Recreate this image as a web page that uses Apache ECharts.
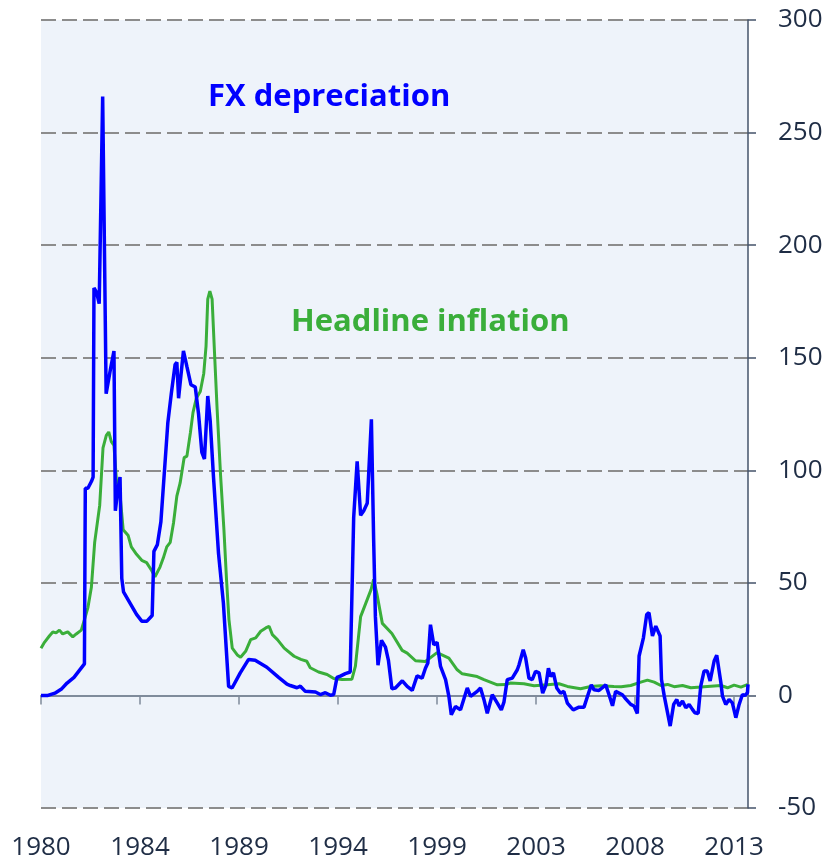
<!DOCTYPE html>
<html>
<head>
<meta charset="utf-8">
<script src="https://cdn.jsdelivr.net/npm/echarts@6/dist/echarts.min.js"></script>
<style>
  html, body { margin: 0; padding: 0; background: #fff; }
  #chart { width: 827px; height: 864px; }
</style>
</head>
<body>
<div id="chart"></div>
<script>
// months counted from Jan 1980
var fxMonth = [0, 4, 8, 12, 15, 19, 22, 24, 25, 25.5, 27, 29, 30, 30.5, 32, 33.5, 35.5, 37.5, 40, 42, 42.8, 44, 45.5, 46.5, 47.5, 52, 55, 58, 61, 64, 65, 67, 69, 73, 75, 77.2, 78.2, 79.2, 82, 84, 86.3, 88.8, 90.7, 92.6, 94.1, 96, 97.4, 99.3, 102.2, 105, 108, 110, 114.7, 119.5, 123.3, 130, 136.8, 141.6, 143.5, 147.4, 149.3, 152, 158, 160.8, 163.7, 166.6, 168.5, 170.4, 172.3, 175.2, 178, 180, 182, 184, 185.8, 187.8, 190.2, 191.5, 192.5, 194, 196, 198.3, 200, 202, 204, 208, 210.8, 213.7, 216.5, 219.4, 221.3, 222.7, 224.2, 226.1, 228, 230, 232.9, 234.8, 236.2, 238.6, 241.5, 245.4, 247.3, 251.1, 253, 255, 256.9, 259.8, 262.7, 265, 266.5, 268.4, 271.3, 274.2, 275.2, 277.6, 279, 280.9, 282.8, 284.7, 286.7, 288.8, 290.7, 292.1, 293.4, 295, 296.9, 299.1, 301, 303, 305, 306.4, 309.7, 312.6, 314.9, 316.8, 318.4, 321.2, 323, 325.1, 327, 329, 330.8, 332.8, 334.7, 336.6, 339.5, 341.4, 343.3, 344.3, 346.8, 348.7, 350, 352, 353.9, 356.4, 357.2, 358.8, 362.2, 364.2, 366, 367.3, 369.3, 371.2, 373.1, 375, 376.4, 378.3, 379.8, 381.7, 383.6, 385.2, 387.5, 389, 391.4, 392.3, 394.2, 396.1, 398, 400, 401.9, 403.8, 405.2, 406.7, 407];
var fxValue = [0, 0, 1, 3, 5.5, 8, 11, 13, 14, 92, 92, 95, 97, 181, 179, 174, 266, 134, 145, 153, 82, 90, 97, 52, 46, 40, 36, 33, 33, 35.5, 64, 67, 77, 121, 134, 147, 148, 132, 153, 146, 138, 137, 125, 108, 105, 133, 122, 97, 63, 41, 4, 3.3, 10, 16, 15.6, 12.5, 8, 5, 4.4, 3.4, 4.1, 1.9, 1.5, 0.4, 1.2, 0.1, 0.4, 8, 8.6, 9.7, 10.4, 79, 104, 80, 82, 85.4, 122.6, 69, 35, 13.4, 24.5, 21.5, 15.6, 3, 3.3, 6.5, 4, 2.2, 8.7, 7.7, 12.1, 14.4, 31.4, 22.5, 23.6, 12.9, 7, -0.4, -8.6, -4.9, -6.4, 3.3, -0.4, 1.8, 3.3, -1.9, -7.9, 0.3, -3.4, -6.4, -3, 7, 7.7, 11.4, 13.6, 20.3, 16.6, 7.7, 7, 10.7, 10, 1, 4.7, 12.1, 8.4, 10, 3.3, 1, 1.8, -3.4, -5.2, -6.4, -5.2, -5.2, 0.3, 4.7, 2.5, 2.2, 3.3, 4.7, 0.3, -4.6, 1.8, 1, 0.3, -1.5, -4, -4.7, -8, 17.5, 25.6, 36, 36.7, 26.4, 30.8, 26.4, 7.1, -0.3, -13.6, -4, -1.8, -4.7, -2.5, -5.5, -4, -6.2, -7.7, -8, 4.1, 10.8, 10.8, 6.4, 15.3, 17.8, 5.6, -0.3, -4, -1.8, -3.3, -9.9, -4, 0.4, 0, 1.2, 4.9];

var cpiMonth = [0, 2, 4.8, 6.8, 8.7, 10.6, 12.5, 15.4, 18.3, 20.3, 23.2, 25, 27, 29, 30.9, 33.8, 35.7, 37.6, 39, 40.5, 42, 43.4, 45.4, 47.3, 50.2, 52, 55, 58, 60.8, 63.7, 65.6, 68.5, 70.4, 72.4, 74.4, 76.3, 78.2, 80.1, 82.4, 84, 86, 87.5, 89.4, 91.7, 93.7, 95, 96, 97.2, 98.5, 99.9, 101.4, 103.4, 105.3, 106.8, 108.2, 110.1, 113, 114.9, 117.8, 120.7, 123.6, 126.5, 129.4, 131.3, 133.2, 136.1, 140, 145.7, 149.6, 153, 155, 159.8, 164.7, 168.5, 173.3, 179, 181, 184, 187, 190, 191.5, 193.4, 196.5, 202, 207.9, 210.8, 215.6, 221.3, 228, 234.8, 239.6, 242.5, 251.1, 255, 262.7, 267.4, 270.3, 278, 283.8, 291.5, 298.2, 303, 310.6, 316.4, 322.1, 329.8, 334, 339.5, 345.3, 349.1, 353, 356.8, 360.7, 364.5, 369.3, 374.1, 379.8, 385.6, 391.4, 395.2, 399, 402.9, 407];
var cpiValue = [21, 23.6, 26.4, 28.2, 27.8, 29, 27.3, 28.2, 26, 27.3, 29, 33.6, 39, 48, 68, 84.5, 110, 115.5, 117, 112.7, 111, 96, 90, 73.6, 71, 66, 62.7, 60, 59, 55.5, 52.7, 57, 61, 66, 68, 76.7, 88.5, 94.4, 105.6, 106.3, 116.7, 125.6, 132, 135, 143, 155, 176, 179.6, 176, 152, 127, 97.4, 73.7, 51.5, 33.7, 21, 18, 17, 19.6, 24.8, 25.6, 28.5, 30, 30.7, 27, 24.8, 21, 17.4, 16, 15.2, 12.3, 10.4, 9.3, 7.5, 7.1, 7.2, 13, 35, 41, 47, 51.6, 45, 32, 27.5, 20, 18.8, 15.4, 15.1, 19, 16.6, 11.4, 9.6, 8.4, 7, 4.7, 4.8, 5.5, 5.2, 4.3, 4.7, 5.2, 4, 3, 4, 4.3, 4, 3.9, 4.4, 5.9, 6.8, 5.9, 4.4, 4.9, 3.9, 4.4, 3.4, 3.7, 4.1, 4.4, 3.4, 4.6, 3.7, 4.9];

var xTickLabels = ["1980", "1984", "1989", "1994", "1999", "2003", "2008", "2013"];

function pairs(xs, ys) {
  return xs.map(function (x, i) { return [x, ys[i]]; });
}

var labelColor = "#1f2d45";
var myChart = echarts.init(document.getElementById("chart"));
myChart.setOption({
  animation: false,
  grid: {
    left: 41,
    right: 79,
    top: 20,
    bottom: 56,
    show: true,
    backgroundColor: "#eef3fa",
    borderWidth: 0,
  },
  xAxis: [
    {
      // tick labels at the bottom
      type: "value",
      position: "bottom",
      min: 0,
      max: 407,
      interval: 57,
      axisLine: { show: false, onZero: false },
      axisTick: { show: false },
      splitLine: { show: false },
      axisLabel: {
        margin: 27,
        fontFamily: "Open Sans",
        fontSize: 26,
        color: labelColor,
        formatter: function (v) {
          return xTickLabels[Math.round(v / 57)] || "";
        },
      },
    },
    {
      // zero line with ticks
      type: "value",
      position: "bottom",
      min: 0,
      max: 407,
      interval: 57,
      axisLine: { show: true, onZero: true, lineStyle: { color: "#7f8b9b", width: 2 } },
      axisTick: { show: true, length: 9, lineStyle: { color: "#7f8b9b", width: 1.5 } },
      axisLabel: { show: false },
      splitLine: { show: false },
    },
  ],
  yAxis: {
    type: "value",
    position: "right",
    min: -50,
    max: 300,
    interval: 50,
    axisLine: { show: true, onZero: false, lineStyle: { color: "#44536a", width: 1.5 } },
    axisTick: { show: true, length: 8, lineStyle: { color: "#44536a", width: 1.5 } },
    axisLabel: {
      margin: 30,
      fontFamily: "Open Sans",
      fontSize: 26,
      color: labelColor,
    },
    splitLine: {
      show: true,
      lineStyle: { color: "#8c8c8c", width: 2, type: [15, 6] },
    },
  },
  graphic: [
    {
      type: "text",
      x: 208,
      y: 97,
      style: {
        text: "FX depreciation",
        font: 'bold 31px "Open Sans"',
        fill: "#0000ff",
        textVerticalAlign: "middle",
      },
    },
    {
      type: "text",
      x: 291,
      y: 322,
      style: {
        text: "Headline inflation",
        font: 'bold 31px "Open Sans"',
        fill: "#3aae3a",
        textVerticalAlign: "middle",
      },
    },
  ],
  series: [
    {
      name: "Headline inflation",
      type: "line",
      xAxisIndex: 0,
      showSymbol: false,
      lineStyle: { color: "#3aae3a", width: 3 },
      data: pairs(cpiMonth, cpiValue),
    },
    {
      name: "FX depreciation",
      type: "line",
      xAxisIndex: 0,
      showSymbol: false,
      lineStyle: { color: "#0000ff", width: 3.5 },
      data: pairs(fxMonth, fxValue),
    },
  ],
});
</script>
</body>
</html>
